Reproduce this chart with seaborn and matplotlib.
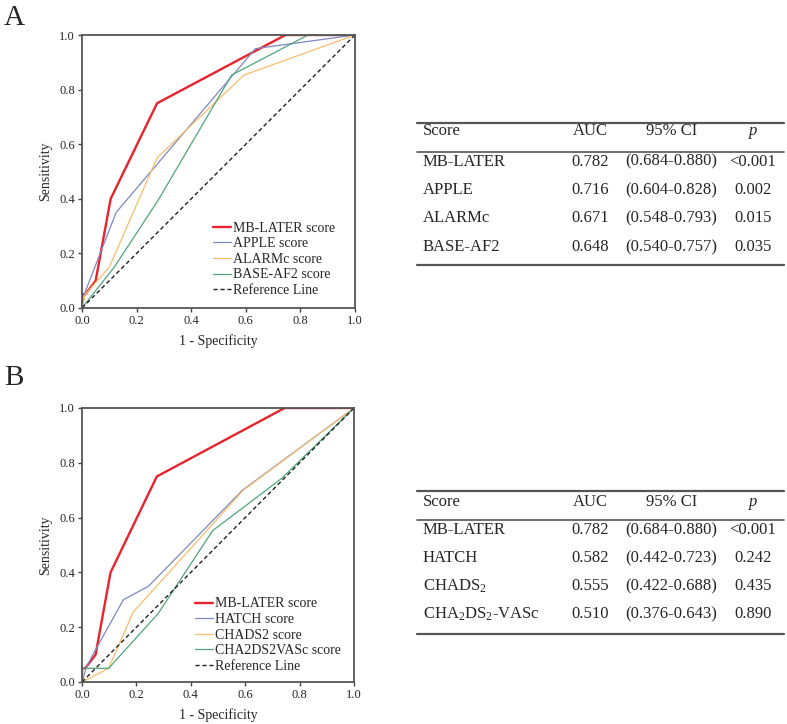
import numpy as np
import pandas as pd
import matplotlib
matplotlib.use("Agg")
import matplotlib.pyplot as plt
import seaborn as sns

# ---------- DATA ------------------------------------------------------------------
# Panel A ROC curves (1 - specificity, sensitivity)
mb_x = [0.0, 0.0, 0.012, 0.05, 0.105, 0.275, 0.745, 1.0]
mb_y = [0.0, 0.05, 0.05, 0.10, 0.40, 0.75, 1.0, 1.0]

apple_x = [0.0, 0.012, 0.125, 0.635, 1.0]
apple_y = [0.0, 0.06, 0.35, 0.95, 1.0]

alarm_x = [0.0, 0.012, 0.10, 0.275, 0.593, 1.0]
alarm_y = [0.0, 0.05, 0.15, 0.55, 0.853, 1.0]

base_x = [0.0, 0.119, 0.279, 0.548, 0.828, 1.0]
base_y = [0.0, 0.151, 0.395, 0.853, 1.0, 1.0]

# Panel B ROC curves
hatch_x = [0.0, 0.015, 0.04, 0.152, 0.245, 0.59, 1.0]
hatch_y = [0.0, 0.05, 0.10, 0.30, 0.35, 0.70, 1.0]

chads_x = [0.0, 0.098, 0.188, 0.593, 1.0]
chads_y = [0.0, 0.05, 0.255, 0.70, 1.0]

vasc_x = [0.0, 0.0, 0.098, 0.28, 0.48, 0.734, 1.0]
vasc_y = [0.0, 0.05, 0.05, 0.25, 0.552, 0.743, 1.0]

ref_x = [0.0, 1.0]
ref_y = [0.0, 1.0]

labels_a = ["MB-LATER score", "APPLE score", "ALARMc score", "BASE-AF2 score"]
labels_b = ["MB-LATER score", "HATCH score", "CHADS2 score", "CHA2DS2VASc score"]

# Tables
tab_header = ["Score", "AUC", "95% CI", "p"]
tab_a_score = ["MB-LATER", "APPLE", "ALARMc", "BASE-AF2"]
tab_a_auc = ["0.782", "0.716", "0.671", "0.648"]
tab_a_ci = ["(0.684-0.880)", "(0.604-0.828)", "(0.548-0.793)", "(0.540-0.757)"]
tab_a_p = ["<0.001", "0.002", "0.015", "0.035"]

tab_b_score = ["MB-LATER", "HATCH", r"CHADS$_2$", r"CHA$_2$DS$_2$-VASc"]
tab_b_auc = ["0.782", "0.582", "0.555", "0.510"]
tab_b_ci = ["(0.684-0.880)", "(0.442-0.723)", "(0.422-0.688)", "(0.376-0.643)"]
tab_b_p = ["<0.001", "0.242", "0.435", "0.890"]

# ---------- STYLE -----------------------------------------------------------------
sns.set_style("ticks")
plt.rcParams["font.family"] = ["Liberation Serif", "DejaVu Serif"]
plt.rcParams["mathtext.fontset"] = "custom"
plt.rcParams["mathtext.rm"] = "Liberation Serif"
plt.rcParams["mathtext.it"] = "Liberation Serif:italic"

colors = ["#e8232b", "#7f88c0", "#f7bd6a", "#4fa57c"]
widths = [1.7, 0.9, 0.9, 0.9]

W, H = 787, 724
fig = plt.figure(figsize=(W / 100, H / 100), dpi=100)


def px_axes(x0, y0, x1, y1):
    return fig.add_axes([x0 / W, 1 - y1 / H, (x1 - x0) / W, (y1 - y0) / H])


def roc_panel(ax, curves, labels, leg_anchor):
    for (cx, cy), lab, col, lw in zip(curves, labels, colors, widths):
        df = pd.DataFrame({"x": cx, "y": cy})
        sns.lineplot(data=df, x="x", y="y", sort=False, estimator=None,
                     color=col, linewidth=lw, label=lab, ax=ax)
    ref = pd.DataFrame({"x": ref_x, "y": ref_y})
    sns.lineplot(data=ref, x="x", y="y", sort=False, estimator=None,
                 color="#222222", linewidth=1.0, linestyle=(0, (3, 2)),
                 label="Reference Line", ax=ax)
    ax.set_xlim(0, 1)
    ax.set_ylim(0, 1)
    ticks = np.arange(0, 1.01, 0.2)
    ax.set_xticks(ticks)
    ax.set_yticks(ticks)
    ax.set_xticklabels([f"{v:.1f}" for v in ticks])
    ax.set_yticklabels([f"{v:.1f}" for v in ticks])
    ax.tick_params(direction="out", length=3, width=1.0, labelsize=9,
                   color="#444444", pad=2)
    for s in ax.spines.values():
        s.set_visible(True)
        s.set_color("#555555")
        s.set_linewidth(1.3)
    ax.set_xlabel("1 - Specificity", fontsize=10, labelpad=5)
    ax.set_ylabel("Sensitivity", fontsize=10, labelpad=5)
    ax.legend(loc="lower left", bbox_to_anchor=leg_anchor, frameon=False,
              fontsize=10, handlelength=1.3, handletextpad=0.15,
              labelspacing=0.19, borderaxespad=0, borderpad=0)


def table(ax, score, auc, ci, p, rows_y, lines_y):
    x0, x1 = 417, 784
    ax.plot([x0, x1], [lines_y[0]] * 2, color="#555555", lw=1.6)
    ax.plot([x0, x1], [lines_y[1]] * 2, color="#555555", lw=1.2)
    ax.plot([x0, x1], [lines_y[2]] * 2, color="#555555", lw=1.6)
    fs = 12
    hy = rows_y[0]
    ax.text(423, hy, tab_header[0], fontsize=fs, va="center", ha="left")
    ax.text(590, hy, tab_header[1], fontsize=fs, va="center", ha="center")
    ax.text(672, hy, tab_header[2], fontsize=fs, va="center", ha="center")
    ax.text(753, hy, tab_header[3], fontsize=fs, va="center", ha="center",
            style="italic")
    for i in range(len(score)):
        y = rows_y[i + 1]
        ax.text(423, y, score[i], fontsize=fs, va="center", ha="left")
        ax.text(590, y, auc[i], fontsize=fs, va="center", ha="center")
        ax.text(671, y, ci[i], fontsize=fs, va="center", ha="center")
        ax.text(753, y, p[i], fontsize=fs, va="center", ha="center")


ax_a = px_axes(82, 35, 355, 308)
roc_panel(ax_a, [(mb_x, mb_y), (apple_x, apple_y), (alarm_x, alarm_y),
                 (base_x, base_y)], labels_a, (0.48, 0.04))

ax_b = px_axes(82, 408, 354, 682)
roc_panel(ax_b, [(mb_x, mb_y), (hatch_x, hatch_y), (chads_x, chads_y),
                 (vasc_x, vasc_y)], labels_b, (0.415, 0.033))

ax_t = fig.add_axes([0, 0, 1, 1], zorder=-1)
ax_t.set_xlim(0, W)
ax_t.set_ylim(H, 0)
ax_t.axis("off")
table(ax_t, tab_a_score, tab_a_auc, tab_a_ci, tab_a_p,
      [131, 161.5, 190, 218.5, 247], [122.5, 151.5, 264.5])
table(ax_t, tab_b_score, tab_b_auc, tab_b_ci, tab_b_p,
      [502, 530, 558.5, 586.5, 614], [490.5, 520, 633.5])

fig.text(4 / W, 1 - 18 / H, "A", fontsize=21, va="center", ha="left")
fig.text(4 / W, 1 - 378 / H, "B", fontsize=21, va="center", ha="left")

fig.savefig("out.png", dpi=100, facecolor="white")
